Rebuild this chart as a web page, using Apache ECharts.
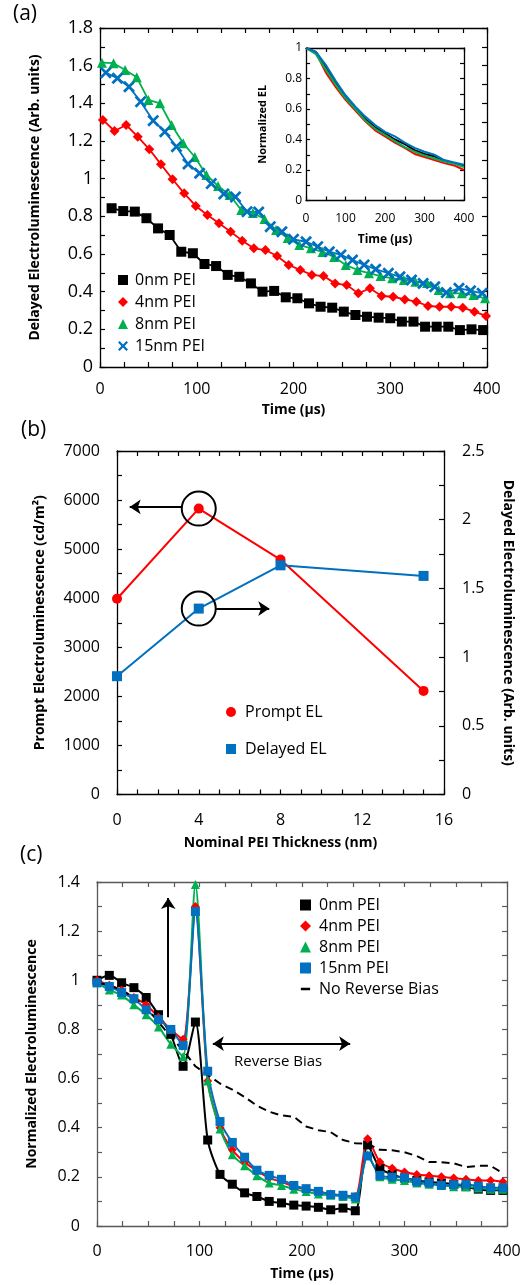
<!DOCTYPE html>
<html><head><meta charset="utf-8">
<script src="https://cdn.jsdelivr.net/npm/echarts@6/dist/echarts.min.js"></script>
<style>html,body{margin:0;padding:0;background:#fff}#c{width:524px;height:1285px}</style>
</head><body><div id="c"></div>
<script>
// ---------- Panel (a): delayed EL vs time ----------
const aTime0 = [12,24,36,48,60,72,84,96,108,120,132,144,156,168,180,192,204,216,228,240,252,264,276,288,300,312,324,336,348,360,372,384,396];
const aVal0 = [0.843,0.828,0.825,0.790,0.736,0.701,0.612,0.604,0.547,0.536,0.489,0.479,0.444,0.400,0.404,0.370,0.365,0.338,0.320,0.315,0.294,0.276,0.267,0.262,0.259,0.241,0.241,0.214,0.214,0.214,0.196,0.200,0.196];
const aTime4 = [3,15,27,39,51,63,75,87,99,111,123,135,147,159,171,183,195,207,219,231,243,255,267,279,291,303,315,327,339,351,363,375,387,399];
const aVal4 = [1.312,1.253,1.285,1.223,1.156,1.076,0.997,0.922,0.855,0.807,0.763,0.718,0.671,0.630,0.621,0.589,0.542,0.515,0.489,0.483,0.444,0.435,0.391,0.418,0.377,0.373,0.359,0.347,0.324,0.320,0.320,0.315,0.294,0.271];
const aTime8 = [2,14,26,38,50,62,74,86,98,110,122,134,146,158,170,182,194,206,218,230,242,254,266,278,290,302,314,326,338,350,362,374,386,398];
const aVal8 = [1.616,1.613,1.577,1.538,1.418,1.400,1.285,1.188,1.115,1.020,0.961,0.913,0.834,0.818,0.786,0.727,0.685,0.648,0.630,0.611,0.584,0.542,0.515,0.498,0.483,0.471,0.462,0.453,0.446,0.409,0.391,0.391,0.382,0.365];
const aTime15 = [6,18,30,42,55,67,79,91,103,115,128,140,152,164,176,188,200,213,225,237,249,261,273,285,298,310,322,334,346,358,371,383,395];
const aVal15 = [1.563,1.533,1.488,1.409,1.308,1.249,1.170,1.078,1.029,0.974,0.919,0.903,0.825,0.823,0.745,0.718,0.678,0.665,0.639,0.612,0.595,0.568,0.542,0.519,0.498,0.479,0.462,0.444,0.426,0.395,0.418,0.405,0.391];

// ---------- Inset: normalized EL ----------
const insetTime = [0,25,50,75,100,125,150,175,200,225,250,275,300,325,350,375,400];
const inset0 = [1.0,0.975,0.875,0.77,0.68,0.605,0.535,0.48,0.44,0.40,0.37,0.33,0.305,0.29,0.26,0.245,0.225];
const inset4 = [1.0,0.97,0.84,0.745,0.66,0.59,0.52,0.46,0.42,0.38,0.345,0.305,0.285,0.265,0.245,0.23,0.20];
const inset8 = [1.0,0.96,0.86,0.76,0.67,0.60,0.525,0.47,0.43,0.39,0.35,0.32,0.295,0.275,0.255,0.24,0.22];
const inset15 = [1.0,0.975,0.89,0.785,0.69,0.615,0.55,0.495,0.45,0.42,0.38,0.345,0.32,0.30,0.265,0.25,0.235];

// ---------- Panel (b): prompt / delayed EL vs PEI thickness ----------
const bThick = [0,4,8,15];
const bPrompt = [3990,5826,4788,2111];
const bDelayed = [0.861,1.353,1.668,1.591];

// ---------- Panel (c): normalized EL with reverse bias ----------
const cTime = [0,12,24,36,48,60,72,84,96,108,120,132,144,156,168,180,192,204,216,228,240,252,264,276,288,300,312,324,336,348,360,372,384,396];
const c0 = [1.00,1.02,0.99,0.97,0.93,0.86,0.78,0.65,0.83,0.35,0.21,0.17,0.135,0.12,0.10,0.094,0.085,0.081,0.076,0.066,0.073,0.062,0.33,0.235,0.21,0.195,0.185,0.18,0.175,0.17,0.16,0.15,0.145,0.145];
const c4 = [1.00,0.98,0.96,0.93,0.90,0.85,0.80,0.76,1.30,0.59,0.40,0.31,0.26,0.225,0.195,0.18,0.16,0.15,0.14,0.13,0.125,0.12,0.355,0.26,0.235,0.22,0.21,0.205,0.20,0.195,0.19,0.185,0.185,0.18];
const c8 = [0.99,0.96,0.94,0.90,0.86,0.81,0.74,0.69,1.39,0.59,0.395,0.29,0.245,0.205,0.175,0.165,0.15,0.14,0.13,0.125,0.12,0.11,0.29,0.20,0.19,0.185,0.175,0.17,0.165,0.16,0.16,0.155,0.15,0.15];
const c15 = [0.99,0.975,0.95,0.925,0.88,0.84,0.80,0.735,1.28,0.63,0.425,0.34,0.28,0.227,0.206,0.19,0.165,0.152,0.141,0.128,0.125,0.118,0.285,0.206,0.199,0.197,0.18,0.175,0.166,0.168,0.17,0.162,0.156,0.156];
const cNoBias = [0.99,0.98,0.96,0.93,0.89,0.83,0.77,0.715,0.65,0.615,0.58,0.555,0.525,0.49,0.465,0.45,0.445,0.405,0.39,0.382,0.35,0.337,0.335,0.31,0.308,0.30,0.285,0.26,0.26,0.255,0.24,0.245,0.245,0.215];

const FONT = 'Open Sans';
const BLACK = '#000000', RED = '#ff0000', GREEN = '#00b050', BLUE = '#0070c0';
const XPATH = 'path://M0,1.6 L1.6,0 L5,3.4 L8.4,0 L10,1.6 L6.6,5 L10,8.4 L8.4,10 L5,6.6 L1.6,10 L0,8.4 L3.4,5 Z';
const DASHPATH = 'path://M0,0 L0.01,0 L0,0.01 Z M10,10 L9.99,10 L10,9.99 Z M0.8,3.9 L9.2,3.9 L9.2,6.1 L0.8,6.1 Z';

const pairs = (xs, ys) => xs.map((x, i) => [x, ys[i]]);
const fmtStep = (step, every, dec) => v => {
  const r = Math.round(v / step);
  return r % every === 0 ? String(+(r * step).toFixed(dec)) : '';
};
function ax(color, tickLen, extra) {
  return Object.assign({
    type: 'value',
    axisLine: {show: true, onZero: false, lineStyle: {color: color, width: 1.3}},
    axisTick: {show: true, inside: true, length: tickLen, lineStyle: {color: color, width: 1.2}},
    splitLine: {show: false},
    axisLabel: {show: false},
    nameTextStyle: {fontWeight: 'bold', color: '#000', fontFamily: FONT}
  }, extra);
}
const lab = (fmt, size, margin) => ({show: true, formatter: fmt, fontSize: size, margin: margin, color: '#000', fontFamily: FONT, hideOverlap: false});
const nts = size => ({fontWeight: 'bold', fontSize: size, color: '#000', fontFamily: FONT});

const CA = '#000', CC = '#595959';

const option = {
  animation: false,
  backgroundColor: '#fff',
  textStyle: {fontFamily: FONT},
  grid: [
    {left: 100, top: 28, width: 387, height: 339, outerBoundsMode: 'none'},
    {left: 306, top: 48, width: 158, height: 152.5, outerBoundsMode: 'none'},
    {left: 117, top: 451, width: 327, height: 343.5, outerBoundsMode: 'none'},
    {left: 97, top: 882, width: 410, height: 344, outerBoundsMode: 'none'}
  ],
  xAxis: [
    ax(CA, 5, {gridIndex: 0, min: 0, max: 400, interval: 25, position: 'bottom', axisLabel: lab(fmtStep(25, 4, 0), 16, 14),
      name: 'Time (µs)', nameLocation: 'middle', nameGap: 36, nameTextStyle: nts(14)}),
    ax(CA, 5, {gridIndex: 0, min: 0, max: 400, interval: 25, position: 'top'}),
    ax(CA, 4, {gridIndex: 1, min: 0, max: 400, interval: 50, position: 'bottom', axisLabel: lab(fmtStep(50, 2, 0), 12, 12),
      name: 'Time (µs)', nameLocation: 'middle', nameGap: 33, nameTextStyle: nts(12)}),
    ax(CA, 4, {gridIndex: 1, min: 0, max: 400, interval: 50, position: 'top'}),
    ax(CA, 5, {gridIndex: 2, min: 0, max: 16, interval: 1, position: 'bottom', axisLabel: lab(fmtStep(1, 4, 0), 16, 18),
      name: 'Nominal PEI Thickness (nm)', nameLocation: 'middle', nameGap: 42, nameTextStyle: nts(14)}),
    ax(CA, 5, {gridIndex: 2, min: 0, max: 16, interval: 1, position: 'top'}),
    ax(CC, 5, {gridIndex: 3, min: 0, max: 400, interval: 25, position: 'bottom', axisLabel: lab(fmtStep(25, 4, 0), 16, 17),
      name: 'Time (µs)', nameLocation: 'middle', nameGap: 41, nameTextStyle: nts(14)}),
    ax(CC, 5, {gridIndex: 3, min: 0, max: 400, interval: 25, position: 'top'})
  ],
  yAxis: [
    ax(CA, 5, {gridIndex: 0, min: 0, max: 1.8, interval: 0.1, position: 'left', axisLabel: lab(fmtStep(0.1, 2, 1), 18, 7),
      name: 'Delayed Electroluminescence (Arb. units)', nameLocation: 'middle', nameGap: 58, nameTextStyle: nts(14)}),
    ax(CA, 5, {gridIndex: 0, min: 0, max: 1.8, interval: 0.1, position: 'right'}),
    ax(CA, 4, {gridIndex: 1, min: 0, max: 1, interval: 0.1, position: 'left', axisLabel: lab(fmtStep(0.1, 2, 1), 12, 4),
      name: 'Normalized EL', nameLocation: 'middle', nameGap: 38, nameTextStyle: nts(11)}),
    ax(CA, 4, {gridIndex: 1, min: 0, max: 1, interval: 0.1, position: 'right'}),
    ax(CA, 5, {gridIndex: 2, min: 0, max: 7000, interval: 500, position: 'left', axisLabel: lab(fmtStep(500, 2, 0), 16, 17),
      name: 'Prompt Electroluminescence (cd/m²)', nameLocation: 'middle', nameGap: 70, nameTextStyle: nts(14)}),
    ax(CA, 5, {gridIndex: 2, min: 0, max: 2.5, interval: 0.25, position: 'right', axisLabel: lab(fmtStep(0.25, 2, 2), 16, 18),
      name: 'Delayed Electroluminescence (Arb. units)', nameLocation: 'middle', nameRotate: -90, nameGap: 57, nameTextStyle: nts(14)}),
    ax(CC, 5, {gridIndex: 3, min: 0, max: 1.4, interval: 0.1, position: 'left', axisLabel: lab(fmtStep(0.1, 2, 1), 16, 17),
      name: 'Normalized Electroluminescence', nameLocation: 'middle', nameGap: 58, nameTextStyle: nts(14)}),
    ax(CC, 5, {gridIndex: 3, min: 0, max: 1.4, interval: 0.1, position: 'right'})
  ],
  legend: [
    {left: 118, top: 272, orient: 'vertical', padding: 0, itemWidth: 10, itemHeight: 10, itemGap: 6, selectedMode: false,
      textStyle: {fontSize: 16, lineHeight: 16, color: '#000', padding: [0, 0, 0, 2]},
      data: [{name: '0nm PEI', icon: 'rect'}, {name: '4nm PEI', icon: 'diamond'}, {name: '8nm PEI', icon: 'triangle'}, {name: '15nm PEI', icon: XPATH}]},
    {left: 226, top: 704, orient: 'vertical', padding: 0, itemWidth: 10, itemHeight: 10, itemGap: 21, selectedMode: false,
      textStyle: {fontSize: 16, lineHeight: 16, color: '#000', padding: [0, 0, 0, 4]},
      data: [{name: 'Prompt EL', icon: 'circle'}, {name: 'Delayed EL', icon: 'rect'}]},
    {left: 300, top: 897, orient: 'vertical', padding: 0, itemWidth: 11, itemHeight: 11, itemGap: 5, selectedMode: false,
      textStyle: {fontSize: 16, lineHeight: 16, color: '#000', padding: [0, 0, 0, 3]},
      data: [{name: '0nm PEI', icon: 'rect'}, {name: '4nm PEI', icon: 'diamond'}, {name: '8nm PEI', icon: 'triangle'}, {name: '15nm PEI', icon: 'rect'},
        {name: 'No Reverse Bias', icon: DASHPATH, itemStyle: {color: '#000'}}]}
  ],
  series: [
    // panel (a)
    {name: '0nm PEI', type: 'line', xAxisIndex: 0, yAxisIndex: 0, data: pairs(aTime0, aVal0), symbol: 'rect', symbolSize: 10,
      itemStyle: {color: BLACK}, lineStyle: {color: BLACK, width: 1.8}},
    {name: '4nm PEI', type: 'line', xAxisIndex: 0, yAxisIndex: 0, data: pairs(aTime4, aVal4), symbol: 'diamond', symbolSize: 10,
      itemStyle: {color: RED}, lineStyle: {color: RED, width: 1.8}},
    {name: '8nm PEI', type: 'line', xAxisIndex: 0, yAxisIndex: 0, data: pairs(aTime8, aVal8), symbol: 'triangle', symbolSize: 10,
      itemStyle: {color: GREEN}, lineStyle: {color: GREEN, width: 1.8}},
    {name: '15nm PEI', type: 'line', xAxisIndex: 0, yAxisIndex: 0, data: pairs(aTime15, aVal15), symbol: XPATH, symbolSize: 12,
      itemStyle: {color: BLUE}, lineStyle: {color: BLUE, width: 1.8}},
    // inset
    {name: 'inset 0nm', type: 'line', xAxisIndex: 2, yAxisIndex: 2, data: pairs(insetTime, inset0), showSymbol: false, symbol: 'none', lineStyle: {color: BLACK, width: 2}},
    {name: 'inset 4nm', type: 'line', xAxisIndex: 2, yAxisIndex: 2, data: pairs(insetTime, inset4), showSymbol: false, symbol: 'none', lineStyle: {color: RED, width: 2}},
    {name: 'inset 8nm', type: 'line', xAxisIndex: 2, yAxisIndex: 2, data: pairs(insetTime, inset8), showSymbol: false, symbol: 'none', lineStyle: {color: GREEN, width: 2}},
    {name: 'inset 15nm', type: 'line', xAxisIndex: 2, yAxisIndex: 2, data: pairs(insetTime, inset15), showSymbol: false, symbol: 'none', lineStyle: {color: BLUE, width: 2}},
    // panel (b)
    {name: 'Prompt EL', type: 'line', xAxisIndex: 4, yAxisIndex: 4, data: pairs(bThick, bPrompt), symbol: 'circle', symbolSize: 10,
      itemStyle: {color: RED}, lineStyle: {color: RED, width: 2},
      markPoint: {silent: true, symbol: 'circle', symbolSize: 34, label: {show: false},
        itemStyle: {color: 'rgba(0,0,0,0)', borderColor: '#000', borderWidth: 2}, data: [{coord: [4, 5826]}]},
      markLine: {silent: true, symbol: ['none', 'arrow'], symbolSize: [11, 11], label: {show: false},
        lineStyle: {color: '#000', width: 2, type: 'solid'}, data: [[{coord: [3.15, 5860]}, {coord: [0.62, 5860]}]]}},
    {name: 'Delayed EL', type: 'line', xAxisIndex: 4, yAxisIndex: 5, data: pairs(bThick, bDelayed), symbol: 'rect', symbolSize: 10,
      itemStyle: {color: BLUE}, lineStyle: {color: BLUE, width: 2},
      markPoint: {silent: true, symbol: 'circle', symbolSize: 34, label: {show: false},
        itemStyle: {color: 'rgba(0,0,0,0)', borderColor: '#000', borderWidth: 2}, data: [{coord: [4, 1.353]}]},
      markLine: {silent: true, symbol: ['none', 'arrow'], symbolSize: [11, 11], label: {show: false},
        lineStyle: {color: '#000', width: 2, type: 'solid'}, data: [[{coord: [4.85, 1.353]}, {coord: [7.45, 1.353]}]]}},
    // panel (c)
    {name: '0nm PEI', type: 'line', xAxisIndex: 6, yAxisIndex: 6, data: pairs(cTime, c0), symbol: 'rect', symbolSize: 9, smooth: 0.25,
      itemStyle: {color: BLACK}, lineStyle: {color: BLACK, width: 2}},
    {name: '4nm PEI', type: 'line', xAxisIndex: 6, yAxisIndex: 6, data: pairs(cTime, c4), symbol: 'diamond', symbolSize: 9, smooth: 0.25,
      itemStyle: {color: RED}, lineStyle: {color: RED, width: 2}},
    {name: '8nm PEI', type: 'line', xAxisIndex: 6, yAxisIndex: 6, data: pairs(cTime, c8), symbol: 'triangle', symbolSize: 9, smooth: 0.25,
      itemStyle: {color: GREEN}, lineStyle: {color: GREEN, width: 2}},
    {name: '15nm PEI', type: 'line', xAxisIndex: 6, yAxisIndex: 6, data: pairs(cTime, c15), symbol: 'rect', symbolSize: 9, smooth: 0.25,
      itemStyle: {color: BLUE}, lineStyle: {color: BLUE, width: 2}},
    {name: 'No Reverse Bias', type: 'line', xAxisIndex: 6, yAxisIndex: 6, data: pairs(cTime, cNoBias), symbol: 'none', showSymbol: false,
      itemStyle: {color: BLACK}, lineStyle: {color: BLACK, width: 2, type: [8, 5]},
      markLine: {silent: true, symbolSize: [11, 11], label: {show: false},
        lineStyle: {color: '#000', width: 2, type: 'solid'},
        data: [
          [{coord: [69.5, 0.85], symbol: 'none'}, {coord: [69.5, 1.335], symbol: 'arrow'}],
          [{coord: [113, 0.742], symbol: 'arrow'}, {coord: [247, 0.742], symbol: 'arrow'}]
        ]}}
  ],
  graphic: [
    {type: 'text', left: 13, top: 4, style: {text: '(a)', fontSize: 21, fill: '#000', fontFamily: FONT}},
    {type: 'text', left: 21, top: 420, style: {text: '(b)', fontSize: 21, fill: '#000', fontFamily: FONT}},
    {type: 'text', left: 20, top: 845, style: {text: '(c)', fontSize: 21, fill: '#000', fontFamily: FONT}},
    {type: 'text', left: 234, top: 1054, style: {text: 'Reverse Bias', fontSize: 15, fill: '#000', fontFamily: FONT}}
  ]
};
const chart = echarts.init(document.getElementById('c'), null, {renderer: 'canvas', width: 524, height: 1285});
chart.setOption(option);
</script></body></html>
